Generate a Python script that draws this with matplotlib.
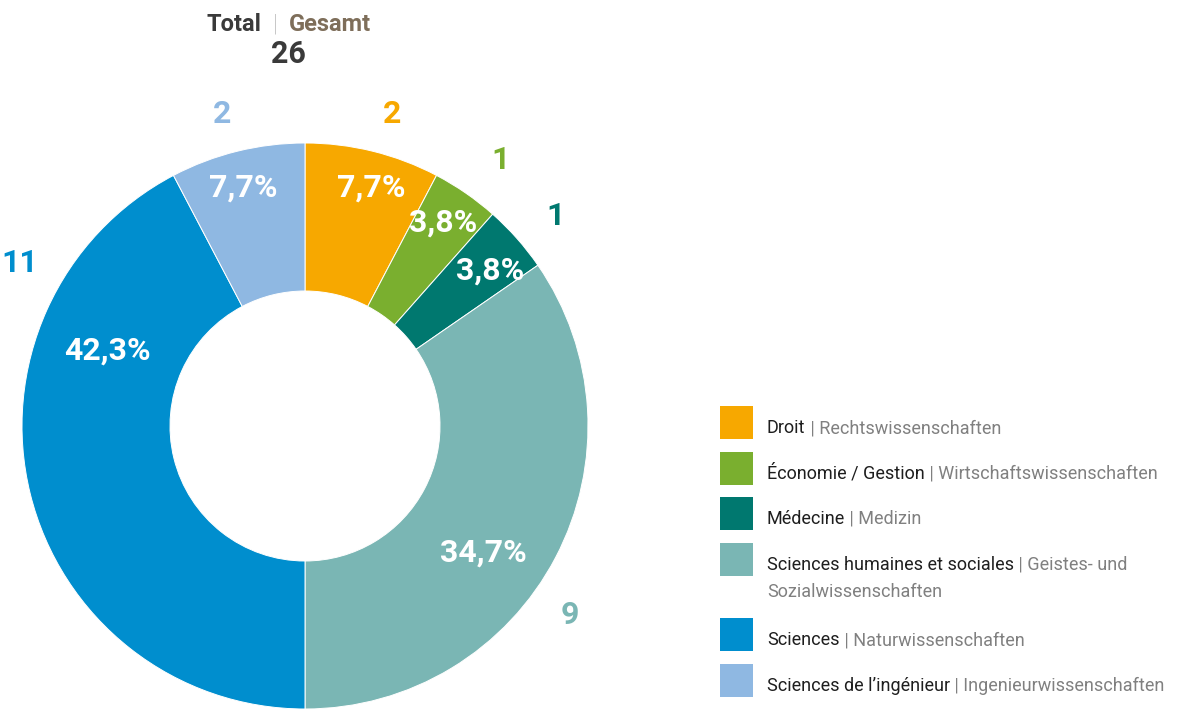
import matplotlib
matplotlib.use("Agg")
import matplotlib.pyplot as plt
from matplotlib.patches import Rectangle
import numpy as np

# ---- data ----
categories_fr = ["Droit", "Économie / Gestion", "Médecine",
                 "Sciences humaines et sociales", "Sciences", "Sciences de l\u2019ingénieur"]
categories_de = ["Rechtswissenschaften", "Wirtschaftswissenschaften", "Medizin",
                 "Geistes- und\nSozialwissenschaften", "Naturwissenschaften", "Ingenieurwissenschaften"]
counts = [2, 1, 1, 9, 11, 2]
percent_labels = ["7,7%", "3,8%", "3,8%", "34,7%", "42,3%", "7,7%"]
total = 26

# ---- style ----
colors = ["#F7A800", "#7AAF2F", "#00786F", "#7AB6B4", "#008ECE", "#8FB8E2"]
FONT = "Roboto"
W, H = 1179, 709
cx, cy, R, r_in = 305, 709 - 426, 283, 135
pct_shift = [1.6, -0.8, 1.0, 7.2, 35.4, -0.6]      # degrees clockwise from mid-angle
pct_rad = [250, 248, 243, 217, 212, 249]
cnt_shift = [1.6, 1.4, 1.3, 7.5, 44.0, -1.0]
cnt_rad = [326, 332, 328, 324, 330, 325]

fig = plt.figure(figsize=(W / 100, H / 100), dpi=100)
ax = fig.add_axes([0, 0, 1, 1])

wedges, _ = ax.pie(counts, colors=colors, startangle=90, counterclock=False,
                   center=(cx, cy), radius=R, frame=True,
                   wedgeprops=dict(width=R - r_in, edgecolor="white", linewidth=0.7))
ax.set_xlim(0, W)
ax.set_ylim(0, H)
ax.set_aspect("auto")
ax.axis("off")

num_size = 23
cap_px = 0.711 * num_size * 100 / 72

for i, w in enumerate(wedges):
    mid = (w.theta1 + w.theta2) / 2.0
    a = np.deg2rad(mid - pct_shift[i])
    x, y = cx + pct_rad[i] * np.cos(a), cy + pct_rad[i] * np.sin(a)
    ax.text(x, y - cap_px / 2, percent_labels[i], color="white", fontsize=num_size,
            fontweight="bold", family=FONT, ha="center", va="baseline")
    a = np.deg2rad(mid - cnt_shift[i])
    x, y = cx + cnt_rad[i] * np.cos(a), cy + cnt_rad[i] * np.sin(a)
    ax.text(x, y - cap_px / 2, str(counts[i]), color=colors[i], fontsize=num_size,
            fontweight="bold", family=FONT, ha="center", va="baseline")

# ---- title ----
fig.canvas.draw()
renderer = fig.canvas.get_renderer()
title_parts = [("Total", "#3A3A3A", "bold"), ("  |  ", "#A8A8A8", "light"), ("Gesamt", "#7E6E5A", "bold")]
tsize = 17
objs = []
for txt, col, wt in title_parts:
    objs.append(ax.text(0, H - 31, txt, color=col, fontsize=tsize, fontweight=wt,
                        family=FONT, ha="left", va="baseline"))
widths = [o.get_window_extent(renderer).width for o in objs]
x0 = 289 - sum(widths) / 2
for o, wd in zip(objs, widths):
    o.set_x(x0)
    x0 += wd
ax.text(288, H - 63, str(total), color="#3A3A3A", fontsize=22, fontweight="bold",
        family=FONT, ha="center", va="baseline")

# ---- legend ----
sq_tops = [406, 451.5, 497, 543, 618, 664]
lsize = 13
line_gap = 27
for i in range(len(categories_fr)):
    top = sq_tops[i]
    ax.add_patch(Rectangle((720, H - top - 33), 33, 33, color=colors[i], lw=0))
    base = H - (top + 27)
    t1 = ax.text(767, base, categories_fr[i], color="#1E1E1E", fontsize=lsize,
                 family=FONT, ha="left", va="baseline")
    w1 = t1.get_window_extent(renderer).width
    de_lines = categories_de[i].split("\n")
    ax.text(767 + w1, base, " | " + de_lines[0], color="#808080",
            fontsize=lsize, family=FONT, ha="left", va="baseline")
    for k, extra in enumerate(de_lines[1:], start=1):
        ax.text(767, base - k * line_gap, extra, color="#808080", fontsize=lsize,
                family=FONT, ha="left", va="baseline")

fig.savefig("out.png", dpi=100, facecolor="white")
